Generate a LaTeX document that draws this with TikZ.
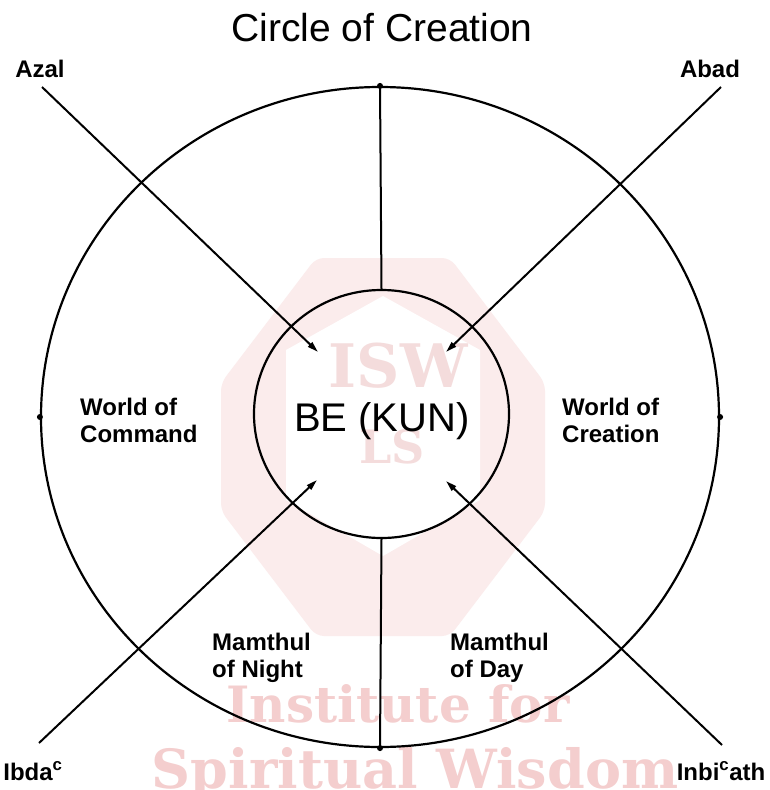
\documentclass[tikz,border=0pt]{standalone}
\usepackage{fontspec}
\setmainfont{Liberation Sans}
\newfontfamily\wmfont{DejaVu Serif}
\usetikzlibrary{arrows.meta,shapes.geometric}
\definecolor{wmpink}{RGB}{244,206,206}
\definecolor{wmpale}{RGB}{251,236,236}
\definecolor{wmletter}{RGB}{244,220,220}
\begin{document}
\begin{tikzpicture}[x=1pt,y=-1pt,
  lbl/.style={font=\fontsize{24}{27}\selectfont\bfseries, align=left, inner sep=0pt},
  conn/.style={line width=2pt, -{Triangle[length=11pt,width=6pt]}},
  ring/.style={draw, ellipse, line width=2.2pt, inner sep=0pt},
  dotm/.style={circle, fill=black, inner sep=0pt, minimum size=6pt},
  wmtext/.style={text=wmpink, font=\wmfont\bfseries, inner sep=0pt}]
\useasboundingbox[fill=white] (0,0) rectangle (769,790);
% watermark
\fill[wmpale, rounded corners=8pt] (545,383) -- (450,258) -- (316,258) -- (221,383) -- (221,511) -- (316,636) -- (450,636) -- (545,511) -- cycle;
\fill[white] (383,296) -- (480,350) -- (480,500) -- (383,556) -- (286,500) -- (286,350) -- cycle;
\node[text=wmletter, font=\wmfont\bfseries\fontsize{60}{60}\selectfont, inner sep=0pt, anchor=base] (wmisw) at (398,387) {ISW};
\node[text=wmletter, font=\wmfont\bfseries\fontsize{46}{46}\selectfont, inner sep=0pt, anchor=base] (wmls) at (392,463) {LS};
\node[wmtext, font=\wmfont\bfseries\fontsize{50}{50}\selectfont, anchor=base] (wminst) at (398,722) {Institute for};
\node[wmtext, font=\wmfont\bfseries\fontsize{54}{54}\selectfont, anchor=base] (wmspir) at (415,788) {Spiritual Wisdom};
% title
\node[font=\fontsize{39}{42}\selectfont, inner sep=0pt, anchor=base] (title) at (382,41) {Circle of Creation};
% circles
\node[ring, minimum width=678pt, minimum height=660pt] (outer) at (380,417) {};
\node[ring, minimum width=255pt, minimum height=248pt] (inner) at (381.5,414) {};
\node[font=\fontsize{40}{44}\selectfont, inner sep=0pt, anchor=base] (be) at (382,431) {BE (KUN)};
% dividers
\draw[line width=2pt] (outer.north) -- (inner.north);
\draw[line width=2pt] (inner.south) -- (outer.south);
\foreach \a in {north,south,east,west} \node[dotm] at (outer.\a) {};
% end labels
\node[lbl, anchor=base] (azal) at (40,77) {Azal};
\node[lbl, anchor=base] (abad) at (710,77) {Abad};
\node[lbl, anchor=base] (ibda) at (33,780) {Ibda\textsuperscript{c}};
\node[lbl, anchor=base] (inbi) at (721,780) {Inbi\textsuperscript{c}ath};
\coordinate (s1) at (42,87);
\coordinate (s2) at (721,87);
\coordinate (s3) at (39,743);
\coordinate (s4) at (722,745);
\coordinate (t1) at (318,352);
\coordinate (t2) at (446,352);
\coordinate (t3) at (317,480);
\coordinate (t4) at (446,481);
\draw[conn] (s1) -- (t1);
\draw[conn] (s2) -- (t2);
\draw[conn] (s3) -- (t3);
\draw[conn] (s4) -- (t4);
% sector labels
\node[lbl, anchor=west] (command) at (80,420) {World of\\Command};
\node[lbl, anchor=west] (creation) at (562,420) {World of\\Creation};
\node[lbl, anchor=west] (night) at (212,658) {Mamthul\\of Night};
\node[lbl, anchor=west] (day) at (450,658) {Mamthul\\of Day};
\end{tikzpicture}
\end{document}
